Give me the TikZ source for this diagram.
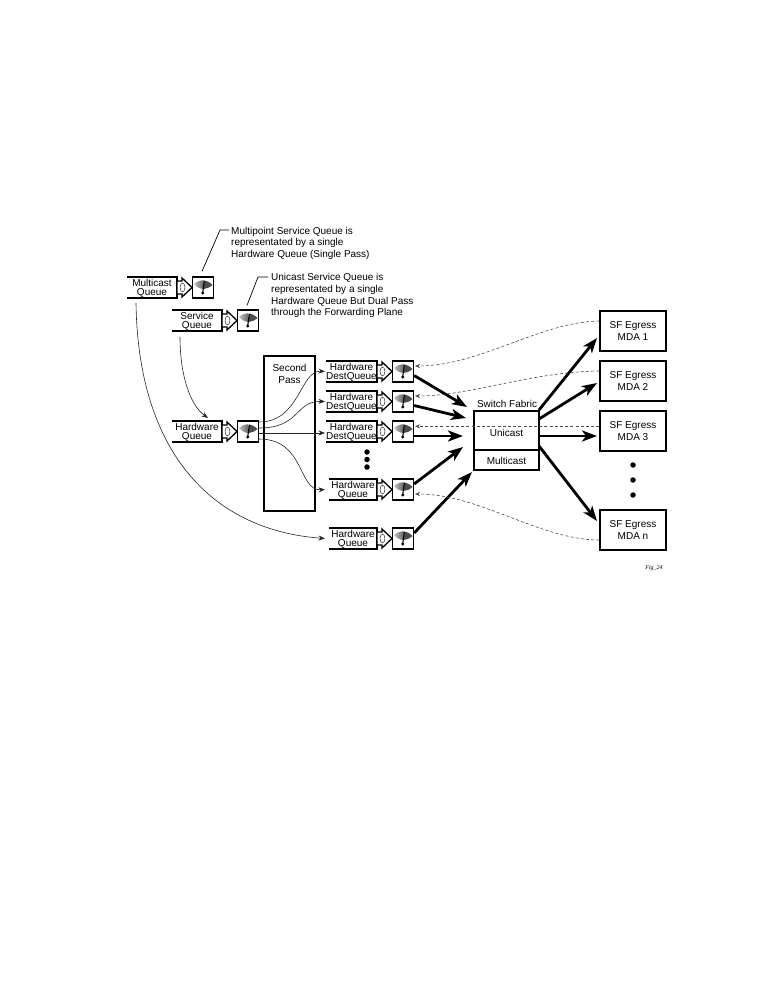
\documentclass[tikz,border=0pt]{standalone}
\usepackage{fontspec}
\setmainfont{Liberation Sans}
\newfontfamily\figfont{Liberation Serif}
\usetikzlibrary{arrows.meta}
\tikzset{
  lbl/.style={font=\fontsize{10}{9.4}\selectfont,align=center,inner sep=0pt},
  note/.style={font=\fontsize{10}{11.7}\selectfont,align=left,inner sep=0pt,anchor=north west},
  sfbox/.style={draw,line width=1.3,minimum width=66,minimum height=40,inner sep=0pt,font=\fontsize{10}{12}\selectfont,align=center,execute at begin node={\rule{0pt}{9.5pt}}},
  meter/.style={draw,line width=1.3,minimum width=21,minimum height=21,inner sep=0pt},
  thin arrow/.style={-{Stealth[length=6.5,width=5]},line width=0.6,black!85},
  heavy/.style={-{Stealth[length=15,width=11,inset=4]},line width=2.8},
  back/.style={-{Stealth[length=5,width=4]},line width=0.6,black!70,dash pattern=on 3 off 2.2},
  dotmark/.style={circle,fill=black,minimum size=5.5,inner sep=0pt}
}
% #1 name, #2 left end of the lines, #3 right end, #4 top, #5 text
\newcommand{\queuerow}[5]{
  \node[lbl] (#1) at ({(#2+#3)/2},#4+11.5) {#5};
  \coordinate (#1in) at (#3-52,#4+10.5);
  \draw[line width=1.3] (#2,#4) -- (#3,#4) -- (#3,#4+21) -- (#2,#4+21);
  \draw[line width=1.3,fill=white,line join=miter] (#3,#4+4) -- (#3+5,#4+4) -- (#3+5,#4+1) -- (#3+15,#4+10.5)
    -- (#3+5,#4+20) -- (#3+5,#4+17) -- (#3,#4+17) -- cycle;
  \draw[line width=0.5,black!80] (#3+5.5,#4+10.5) ellipse (2.4 and 4.4);
  \node[meter] (#1m) at (#3+26,#4+10.5) {};
  \begin{scope}[shift={(#3+15.5,#4)}]
    \shade[left color=black!25,right color=black!60] (1.5,7) .. controls (4,4.5) and (8,3.3) .. (11,3.3) -- (11,12) .. controls (8,12) and (4,10) .. cycle;
    \fill[black!70] (11,3.3) .. controls (14,3.5) and (17,5) .. (20,8) .. controls (17,10.5) and (14,12) .. (11,12) -- cycle;
    \draw[line width=1.1] (10.2,16) -- (11.8,4);
    \fill (10.2,16) circle (1.7);
  \end{scope}
}
\begin{document}
\begin{tikzpicture}[x=1pt,y=-1pt]
\useasboundingbox (0,0) rectangle (775,1000);

\queuerow{mcq}{127}{177}{277}{Multicast\\Queue}
\queuerow{svq}{172}{222}{310}{Service\\Queue}
\queuerow{hwq}{172}{222}{421}{Hardware\\Queue}
\queuerow{dqa}{326}{377}{361}{Hardware\\DestQueue}
\queuerow{dqb}{326}{377}{391}{Hardware\\DestQueue}
\queuerow{dqc}{326}{377}{421}{Hardware\\DestQueue}
\queuerow{hqd}{329}{377}{479}{Hardware\\Queue}
\queuerow{hqe}{329}{377}{528}{Hardware\\Queue}

\node[draw,line width=1.3,minimum width=51,minimum height=155,inner sep=0pt] (pass) at (289.5,433.5) {};
\node[lbl,font=\fontsize{10}{12}\selectfont] (passtxt) at (289.5,374) {Second\\Pass};

\node[sfbox] (sfa) at (633,331) {SF Egress\\MDA 1};
\node[sfbox] (sfb) at (633,381) {SF Egress\\MDA 2};
\node[sfbox] (sfc) at (633,431) {SF Egress\\MDA 3};
\node[sfbox] (sfn) at (633,530) {SF Egress\\MDA n};

\node[draw,line width=1.3,minimum width=65,minimum height=39,inner sep=0pt] (uni) at (506.5,430.5) {};
\node[draw,line width=1.3,minimum width=65,minimum height=20,inner sep=0pt] (multi) at (506.5,460) {};
\node[lbl] (multitxt) at (506.5,461) {Multicast};
\node[lbl] (unitxt) at (506.5,433) {Unicast};
\node[lbl] (fabric) at (507,404) {Switch Fabric};

\node[dotmark] (dla) at (367,452) {};
\node[dotmark] (dlb) at (367,459.5) {};
\node[dotmark] (dlc) at (367,467) {};
\node[dotmark] (dra) at (633,465) {};
\node[dotmark] (drb) at (633,480) {};
\node[dotmark] (drc) at (633,495) {};

\node[note] (mpnote) at (231,226.8) {Multipoint Service Queue is\\representated by a single\\Hardware Queue (Single Pass)};
\node[note] (ucnote) at (271,273.3) {Unicast Service Queue is\\representated by a single\\Hardware Queue But Dual Pass\\through the Forwarding Plane};
\node[font=\figfont\itshape\fontsize{6}{7}\selectfont,inner sep=0pt] (figno) at (654,568) {Fig\_24};

% callouts
\coordinate (mpend) at (229,230);
\coordinate (ucend) at (268,277);
\draw[line width=0.7] (mcqm.north) ++(-1,-5) -- (220,230) -- (mpend);
\draw[line width=0.7] (svqm.north) ++(-1,-4) -- (258,277) -- (ucend);

% queue feeds
\coordinate (mcqtail) at (136,303);
\coordinate (svqtail) at (180,337);
\coordinate (hwqtop) at (208,418);
\draw[thin arrow] (mcqtail) .. controls (138,450) and (210,530) .. (hqein);
\draw[thin arrow] (svqtail) .. controls (180,375) and (190,405) .. (hwqtop);
\path (hwqm.east) ++(0,-9.5) coordinate (hwa) ++(0,6) coordinate (hwb) ++(0,5) coordinate (hwc) ++(0,6) coordinate (hwd);
\draw[thin arrow] (hwa) .. controls (300,422) and (300,370) .. (dqain);
\draw[thin arrow] (hwb) .. controls (300,428) and (295,401) .. (dqbin);
\draw[thin arrow] (hwc) -- (hwc -| dqcin);
\draw[thin arrow] (hwd) .. controls (305,439) and (298,491) .. (hqdin);

% into the fabric
\draw[heavy] (dqam.east) ++(0,4) -- (467,407);
\draw[heavy] (dqbm.east) ++(0,4) -- (466,418);
\draw[heavy] (dqcm.east) ++(0,4.5) -- (463,436);
\draw[heavy] (hqdm.east) ++(0,-5.5) -- (463,447);
\draw[heavy] (hqem.east) ++(0,-5.5) -- (472,472);

% out of the fabric
\draw[heavy] (539,410) -- (597,338);
\draw[heavy] (539,419) -- (597,383);
\draw[heavy] (539,436) -- (597,436);
\draw[heavy] (539,446) -- (597,521);

% return paths
\draw[back] (sfa.west) ++(0,-10) .. controls (540,322) and (480,366) .. (415,366);
\draw[back] (sfb.west) ++(0,-10) .. controls (530,372) and (470,396) .. (415,396);
\draw[back] (sfc.west) ++(0,-4.7) -- (415,426.3);
\draw[back] (sfn.west) ++(0,10) .. controls (540,540) and (480,494) .. (415,494);
\end{tikzpicture}
\end{document}
